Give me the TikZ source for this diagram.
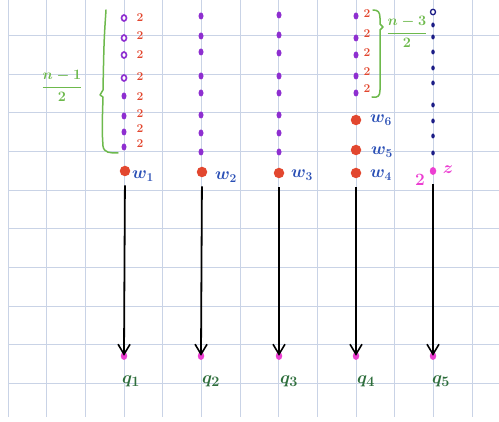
\documentclass[tikz,border=0pt]{standalone}
\usetikzlibrary{arrows.meta,shapes.geometric}
\definecolor{gridc}{HTML}{C9D3E6}
\definecolor{pdotc}{HTML}{8E2FD0}
\definecolor{redc}{HTML}{E2472F}
\definecolor{bluec}{HTML}{2A4FB5}
\definecolor{navyc}{HTML}{1B1C86}
\definecolor{magc}{HTML}{EC3FD2}
\definecolor{greenc}{HTML}{6DB94C}
\definecolor{qgreen}{HTML}{2E6E3C}
\tikzset{
  pdot/.style={ellipse,fill=pdotc,inner sep=0pt,minimum width=5pt,minimum height=7pt},
  pring/.style={ellipse,draw=pdotc,line width=1.6pt,fill=white,inner sep=0pt,minimum width=5pt,minimum height=6pt},
  ndot/.style={ellipse,fill=navyc,inner sep=0pt,minimum width=3.5pt,minimum height=5pt},
  nring/.style={ellipse,draw=navyc,line width=1.3pt,fill=white,inner sep=0pt,minimum width=5pt,minimum height=5.5pt},
  rdot/.style={circle,fill=redc,inner sep=0pt,minimum size=10.5pt},
  mdot/.style={ellipse,fill=magc,inner sep=0pt,minimum width=6.5pt,minimum height=8pt},
  twolab/.style={text=redc,font=\fontsize{12}{12}\selectfont\bfseries,inner sep=0pt},
  wlab/.style={text=bluec,font=\fontsize{17}{17}\selectfont\boldmath,inner sep=0pt},
  qlab/.style={text=qgreen,font=\fontsize{19}{19}\selectfont\boldmath,inner sep=0pt},
  fraclab/.style={text=greenc,font=\fontsize{14}{14}\selectfont\boldmath,inner sep=0pt},
  gridline/.style={draw=gridc,line width=1pt},
  arr/.style={draw=black,line width=1.8pt,shorten <=9pt,-{Straight Barb[length=10pt,width=12pt,line width=1.6pt]}},
  brace/.style={draw=greenc,line width=1.5pt,line cap=round,line join=round},
}
\begin{document}
\begin{tikzpicture}[x=1pt,y=-1pt]
\useasboundingbox (0,0) rectangle (499,422);
% grid
\foreach \gx in {8,46.7,85.4,124,162.7,201.4,240,278.7,317.4,356,394.7,433.4,472}
  \draw[gridline] (\gx,0) -- (\gx,417);
\foreach \gy in {36,74.5,113,151.7,190.4,229,267.7,306.4,345,383.7}
  \draw[gridline] (8,\gy) -- (499,\gy);

% column 1
\foreach \yy/\k in {18/1,38/2,55/3,78/4}
  \node[pring] (a\k) at (124,\yy) {};
\foreach \yy/\k in {96/5,116/6,132/7,147/8}
  \node[pdot] (a\k) at (124,\yy) {};
\foreach \yy/\k in {18/1,36/2,55/3,77/4,97/5,114/6,129/7,144/8}
  \node[twolab] (ta\k) at (140,\yy) {2};
\node[rdot] (w1) at (125,171) {};
\node[wlab] (lw1) at (143,176) {$w_1$};
\draw[brace] (106,10) .. controls (104,40) .. (103,90) -- (100,95) -- (103,97) .. controls (102,130) .. (103,146) .. controls (104,153) and (110,153) .. (118,153);
\node[fraclab] (f1) at (62,86) {$\displaystyle\frac{n-1}{2}$};

% column 2
\foreach \yy/\k in {16/1,36/2,52/3,76/4,93/5,115/6,133/7,152/8}
  \node[pdot] (b\k) at (201,\yy) {};
\node[rdot] (w2) at (202,172) {};
\node[wlab] (lw2) at (226,177) {$w_2$};

% column 3
\foreach \yy/\k in {15/1,35/2,53/3,76/4,93/5,115/6,133/7,152/8}
  \node[pdot] (c\k) at (279,\yy) {};
\node[rdot] (w3) at (279,173) {};
\node[wlab] (lw3) at (302,175) {$w_3$};

% column 4
\foreach \yy/\k in {16/1,38/2,55/3,76/4,93/5}
  \node[pdot] (d\k) at (356,\yy) {};
\foreach \yy/\k in {14/1,34/2,53/3,72/4,89/5}
  \node[twolab] (td\k) at (367,\yy) {2};
\draw[brace] (373,10) .. controls (378,10) and (380,12) .. (380,18) -- (380,24) -- (383,27) -- (380,30) -- (380,90) .. controls (380,96) and (378,98) .. (372,97);
\node[fraclab] (f3) at (407,32) {$\displaystyle\frac{n-3}{2}$};
\node[rdot] (w6) at (356,120) {};
\node[rdot] (w5) at (356,150) {};
\node[rdot] (w4) at (356,173) {};
\node[wlab] (lw6) at (381,120) {$w_6$};
\node[wlab] (lw5) at (382,152) {$w_5$};
\node[wlab] (lw4) at (381,175) {$w_4$};

% column 5
\node[nring] (e1) at (433,12) {};
\foreach \yy/\k in {25/2,37/3,52/4,68/5,83/6,105/7,121/8,136/9,153/10}
  \node[ndot] (e\k) at (433,\yy) {};
\node[mdot] (z) at (433,171) {};
\node[text=magc,font=\fontsize{17}{17}\selectfont\boldmath,inner sep=0pt] (lz) at (448,170) {$z$};
\node[text=magc,font=\fontsize{16}{16}\selectfont\boldmath,inner sep=0pt] (l2) at (420,180) {$2$};

% bottom
\foreach \xx/\k/\lx in {124/1/131,201/2/211,279/3/289,356/4/366,433/5/441}{
  \node[mdot] (q\k) at (\xx,356) {};
  \node[qlab] (lq\k) at (\lx,381) {$q_{\k}$};
}
\draw[arr] (w1) -- ([yshift=-4pt]q1.north);
\draw[arr] (w2) -- ([yshift=-4pt]q2.north);
\draw[arr] (w3) -- ([yshift=-4pt]q3.north);
\draw[arr] (w4) -- ([yshift=-4pt]q4.north);
\draw[arr] (z) -- ([yshift=-4pt]q5.north);
\end{tikzpicture}
\end{document}
